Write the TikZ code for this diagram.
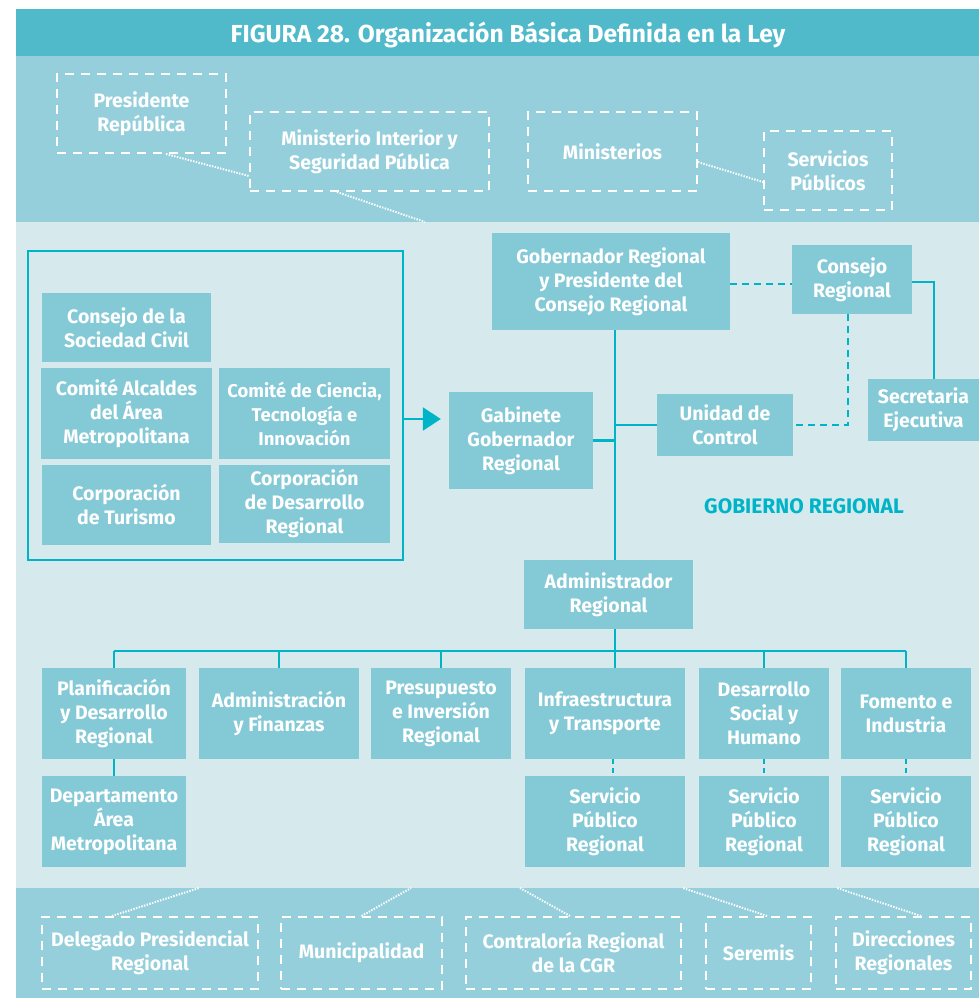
\documentclass[tikz,border=0pt]{standalone}
\usepackage{fontspec}
\setmainfont{Fira Sans}
\usetikzlibrary{arrows.meta,calc}

\definecolor{titlec}{HTML}{50BACB}
\definecolor{bandc}{HTML}{95CFDB}
\definecolor{paperc}{HTML}{D6E9ED}
\definecolor{boxc}{HTML}{84C9D6}
\definecolor{linec}{HTML}{00B4C8}

% name, style, x1, y1, x2, y2, text  (y grows downwards)
\newcommand\orgnode[7]{%
  \node[#2,minimum width={#5pt-#3pt},minimum height={#6pt-#4pt}]
    (#1) at ({(#3+#5)/2},{(#4+#6)/2}) {#7};}

\tikzset{
  lbl/.style={font=\bfseries\fontsize{19.5}{24}\selectfont, align=center, inner sep=0pt, text=white},
  orgbox/.style={lbl, fill=boxc},
  extbox/.style={lbl, draw=white, line width=2pt, dash pattern=on 9pt off 7pt},
  framebox/.style={draw=linec, line width=2pt, inner sep=0pt},
  dotlink/.style={white, line width=2pt, dash pattern=on 1.4pt off 1.4pt},
  link/.style={linec, line width=2.5pt},
  dlink/.style={linec, line width=2.5pt, dash pattern=on 7pt off 5pt},
}

\begin{document}
\begin{tikzpicture}[x=1pt,y=-1pt]
\useasboundingbox (0,0) rectangle (979,998);
\fill[white] (0,0) rectangle (979,998);

% background bands
\fill[titlec] (16,9) rectangle (979,56);
\fill[bandc]  (16,56) rectangle (979,222);
\fill[paperc] (16,222) rectangle (979,888);
\fill[bandc]  (16,888) rectangle (979,998);

\node[anchor=base, text=white, font=\bfseries\fontsize{24.6}{30}\selectfont, inner sep=0pt]
  (title) at (508,43) {FIGURA 28. Organización Básica Definida en la Ley};

% national level
\orgnode{pres}{extbox}{57}{74}{226}{153}{Presidente\\República}
\orgnode{mint}{extbox}{250}{112}{489}{191}{Ministerio Interior y\\Seguridad Pública}
\orgnode{mins}{extbox}{528}{112}{697}{191}{Ministerios}
\orgnode{serv}{extbox}{764}{131}{892}{210}{Servicios\\Públicos}

\coordinate (mlink) at (425,222);
\draw[dotlink] ($(pres.south)+(24.5,0)$) -- ($(mint.west)+(0,24.5)$);
\draw[dotlink] ($(mint.south)+(-32.5,0)$) -- (mlink);
\draw[dotlink] ($(mins.east)+(0,10.5)$) -- ($(serv.west)+(0,11.5)$);

% advisory bodies
\orgnode{frame}{framebox}{28}{251}{403}{560}{}
\orgnode{civ}{orgbox}{42}{293}{211}{362}{Consejo de la\\Sociedad Civil}
\orgnode{alc}{orgbox}{41}{368}{212}{459}{Comité Alcaldes\\del Área\\Metropolitana}
\orgnode{cien}{orgbox, font=\bfseries\fontsize{18.5}{24}\selectfont}{219}{368}{390}{459}{Comité de Ciencia,\\Tecnología e\\Innovación}
\orgnode{tur}{orgbox}{42}{465}{211}{545}{Corporación\\de Turismo}
\orgnode{cdr}{orgbox}{219}{465}{390}{543}{Corporación\\de Desarrollo\\Regional}

% regional government
\orgnode{gob}{orgbox}{492}{233}{730}{330}{Gobernador Regional\\y Presidente del\\Consejo Regional}
\orgnode{conreg}{orgbox}{792}{245}{912}{314}{Consejo\\Regional}
\orgnode{secr}{orgbox}{868}{379}{979}{441}{Secretaria\\Ejecutiva}
\orgnode{unid}{orgbox}{657}{394}{793}{456}{Unidad de\\Control}
\orgnode{gab}{orgbox}{449}{392}{593}{489}{Gabinete\\Gobernador\\Regional}
\orgnode{admin}{orgbox}{524}{560}{693}{629}{Administrador\\Regional}

\node[text=linec, font=\bfseries\fontsize{21}{24}\selectfont, inner sep=0pt]
  (gr) at (804,506) {GOBIERNO REGIONAL};

% divisions
\orgnode{plan}{orgbox}{42}{668}{186}{759}{Planificación\\y Desarrollo\\Regional}
\orgnode{afin}{orgbox}{199}{668}{359}{759}{Administración\\y Finanzas}
\orgnode{presu}{orgbox}{371}{668}{511}{759}{Presupuesto\\e Inversión\\Regional}
\orgnode{infra}{orgbox}{525}{668}{685}{759}{Infraestructura\\y Transporte}
\orgnode{dsoc}{orgbox}{699}{668}{829}{759}{Desarrollo\\Social y\\Humano}
\orgnode{fom}{orgbox}{841}{668}{971}{759}{Fomento e\\Industria}

\orgnode{dept}{orgbox}{42}{776}{186}{867}{Departamento\\Área\\Metropolitana}
\orgnode{sp1}{orgbox}{525}{776}{685}{867}{Servicio\\Público\\Regional}
\orgnode{sp2}{orgbox}{699}{776}{829}{867}{Servicio\\Público\\Regional}
\orgnode{sp3}{orgbox}{841}{776}{971}{867}{Servicio\\Público\\Regional}

% connectors
\coordinate (sp) at (615,0);
\coordinate (bus) at (0,651);
\coordinate (ain) at (403,419);

\draw[link, -{Triangle[length=18pt,width=23pt]}, shorten >=8pt] (ain) -- (ain -| gab.west);
\draw[link] (gob.south -| sp) -- (admin.north -| sp);
\draw[link] (admin.south -| sp) -- (infra.north -| sp);
\draw[link] (gab.east) -- (gab.east -| sp);
\draw[link] (unid.west -| sp) -- (unid.west);
\draw[dlink] ($(gob.east)+(0,2.5)$) -- ($(conreg.west)+(0,4.5)$);
\draw[dlink] ($(conreg.south)+(-4,0)$) |- (unid.east);
\draw[link] ($(conreg.east)+(0,2.5)$) -| ($(secr.north)+(10.5,0)$);

\draw[link] (plan.north |- bus) -- (fom.north |- bus);
\foreach \n in {plan,afin,presu,dsoc,fom} \draw[link] (\n.north |- bus) -- (\n.north);
\draw[link] (plan.south) -- (dept.north);
\draw[dlink, dash pattern=on 5pt off 4pt] ($(infra.south)+(8,0)$) -- ($(sp1.north)+(8,0)$);
\draw[dlink, dash pattern=on 5pt off 4pt] (dsoc.south) -- (sp2.north);
\draw[dlink, dash pattern=on 5pt off 4pt] (fom.south) -- (sp3.north);

% local and deconcentrated level
\orgnode{deleg}{extbox}{42}{917}{258}{989}{Delegado Presidencial\\Regional}
\orgnode{muni}{extbox}{281}{917}{442}{989}{Municipalidad}
\orgnode{contra}{extbox}{466}{917}{681}{989}{Contraloría Regional\\de la CGR}
\orgnode{seremi}{extbox}{706}{917}{811}{989}{Seremis}
\orgnode{direc}{extbox}{836}{917}{971}{989}{Direcciones\\Regionales}

\coordinate (b1) at (199,888);
\coordinate (b2) at (411,888);
\coordinate (b3) at (520,888);
\coordinate (b4) at (683,888);
\coordinate (b5) at (837,888);
\draw[dotlink] ($(deleg.north)+(-38,0)$) -- (b1);
\draw[dotlink] (muni.north) -- (b2);
\draw[dotlink] ($(contra.north)+(-3.5,0)$) -- (b3);
\draw[dotlink] ($(seremi.north)+(8.5,0)$) -- (b4);
\draw[dotlink] ($(direc.north)+(17.5,0)$) -- (b5);
\end{tikzpicture}
\end{document}
